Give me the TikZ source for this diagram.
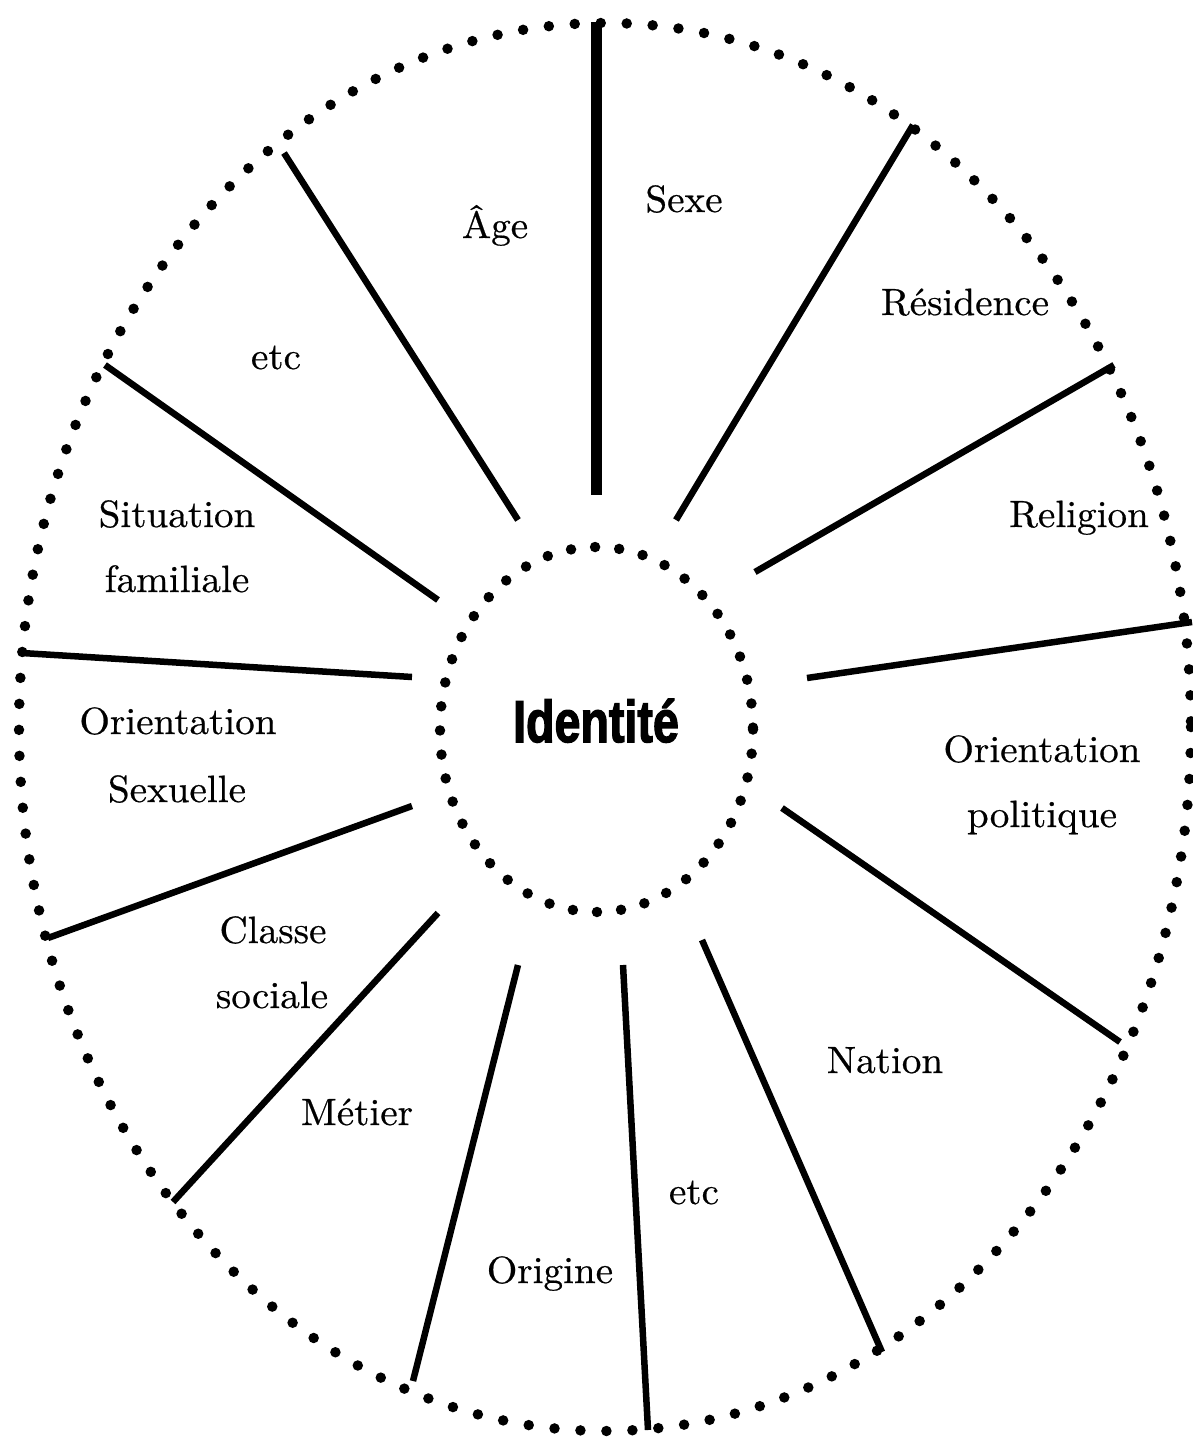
\documentclass[tikz,border=0pt]{standalone}
\usepackage{fontspec}
\newfontfamily\idfont[BoldFeatures={FakeBold=2.5}]{Liberation Sans}
\newfontfamily\labfont[FakeStretch=1.03,FakeBold=0.5]{lmroman10-regular.otf}
\begin{document}
\begin{tikzpicture}[x=1pt,y=-1pt,
  lbl/.style={inner sep=0pt,anchor=base,font=\labfont\fontsize{38}{40}\selectfont},
  spoke/.style={line width=6.5pt},
  mainspoke/.style={line width=11pt},
  dotring/.style={line width=10.5pt,line cap=round,dash pattern=on 0pt off 26pt},
  innerring/.style={line width=10.5pt,line cap=round,dash pattern=on 0pt off 24.2pt}]
\useasboundingbox (0,0) rectangle (1192,1438);
% rings
\draw[dotring] (605,727) ellipse [x radius=586, y radius=704];
\draw[innerring] (596.5,729.5) ellipse [x radius=156.5, y radius=182.5];
% spoke end points
\coordinate (o1) at (596,22);    \coordinate (i1) at (596,495);
\coordinate (o2) at (913,125);   \coordinate (i2) at (676,520);
\coordinate (o3) at (1114,365);  \coordinate (i3) at (755,572);
\coordinate (o4) at (1192,622);  \coordinate (i4) at (807,678);
\coordinate (o5) at (1120,1042); \coordinate (i5) at (782,808);
\coordinate (o6) at (882,1352);  \coordinate (i6) at (702,940);
\coordinate (o7) at (648,1430);  \coordinate (i7) at (623,965);
\coordinate (o8) at (413,1381);  \coordinate (i8) at (518,965);
\coordinate (o9) at (173,1202);  \coordinate (i9) at (438,913);
\coordinate (o10) at (48,938);   \coordinate (i10) at (412,806);
\coordinate (o11) at (22,653);   \coordinate (i11) at (412,677);
\coordinate (o12) at (105,365);  \coordinate (i12) at (438,600);
\coordinate (o13) at (284,153);  \coordinate (i13) at (518,520);
\draw[mainspoke] (o1) -- (i1);
\foreach \k in {2,...,13} {\draw[spoke] (o\k) -- (i\k);}
% labels
\node[lbl] (age) at (495,238) {Âge};
\node[lbl] (sexe) at (684,212) {Sexe};
\node[lbl] (res) at (965,315) {Résidence};
\node[lbl] (rel) at (1079,527) {Religion};
\node[lbl] (op1) at (1042,762) {Orientation};
\node[lbl] (op2) at (1042,827) {politique};
\node[lbl] (nat) at (885,1073) {Nation};
\node[lbl] (etc2) at (694,1204) {etc};
\node[lbl] (ori) at (550,1283) {Origine};
\node[lbl] (met) at (357,1125) {Métier};
\node[lbl] (cs1) at (273,943) {Classe};
\node[lbl] (cs2) at (272,1008) {sociale};
\node[lbl] (os1) at (178,734) {Orientation};
\node[lbl] (os2) at (177,802) {Sexuelle};
\node[lbl] (sf1) at (177,527) {Situation};
\node[lbl] (sf2) at (177,592) {familiale};
\node[lbl] (etc1) at (276,369) {etc};
\node[inner sep=0pt,anchor=base] (id) at (596,742)
  {\scalebox{0.79}[1]{\idfont\bfseries\fontsize{59}{60}\selectfont Identité}};
\end{tikzpicture}
\end{document}
